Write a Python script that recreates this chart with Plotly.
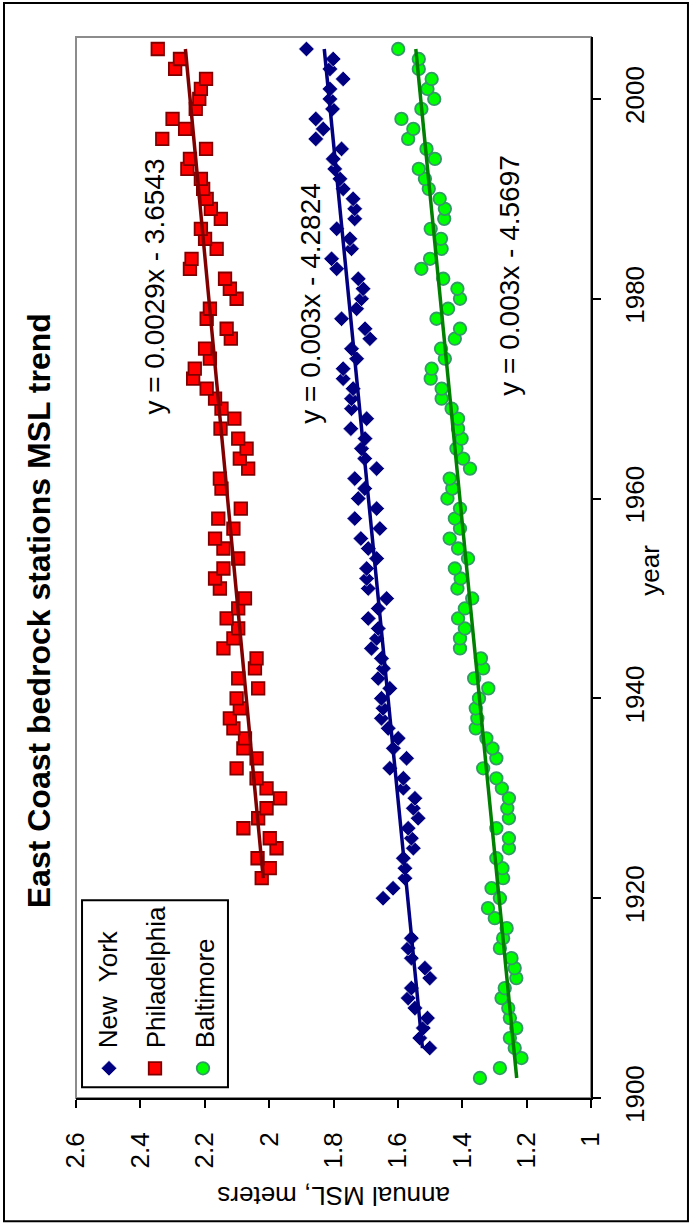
import numpy as np
import plotly.graph_objects as go

# ---------------- data ----------------
ny_years = list(range(1905, 1917)) + list(range(1920, 2006))
ny_msl = [1.501, 1.532, 1.521, 1.508, 1.547, 1.568, 1.558, 1.501, 1.516, 1.558, 1.568, 1.558,
          1.646, 1.615, 1.578, 1.578, 1.583, 1.552, 1.558, 1.568, 1.537, 1.552,
          1.547, 1.583, 1.583, 1.625, 1.573, 1.614, 1.599, 1.630, 1.651, 1.646,
          1.651, 1.625, 1.661, 1.645, 1.651, 1.682, 1.666, 1.661, 1.692, 1.661,
          1.635, 1.692, 1.697, 1.697, 1.666, 1.692, 1.715, 1.656, 1.734, 1.666,
          1.723, 1.703, 1.734, 1.666, 1.703, 1.713, 1.702, 1.746, 1.697, 1.744,
          1.744, 1.739, 1.770, 1.770, 1.728, 1.744, 1.687, 1.702, 1.775, 1.728,
          1.713, 1.708, 1.723, 1.790, 1.806, 1.744, 1.749, 1.790, 1.734, 1.734,
          1.739, 1.770, 1.780, 1.796, 1.801, 1.775, 1.855, 1.832, 1.855, 1.803,
          1.811, 1.811, 1.770, 1.811, 1.801, 1.884]

phil_years = list(range(1922, 1960)) + list(range(1961, 2006))
phil_msl = [2.023, 1.998, 2.036, 1.977, 1.998, 2.080, 2.034, 2.008, 1.966, 2.008,
            2.039, 2.101, 2.039, 2.080, 2.075, 2.111, 2.122, 2.091, 2.101, 2.034,
            2.096, 2.044, 2.039, 2.142, 2.111, 2.096, 2.132, 2.096, 2.075, 2.153,
            2.168, 2.142, 2.096, 2.142, 2.168, 2.111, 2.158, 2.088,
            2.148, 2.153, 2.065, 2.091, 2.070, 2.096, 2.151, 2.108, 2.148, 2.168,
            2.194, 2.236, 2.231, 2.184, 2.199, 2.119, 2.132, 2.194, 2.184, 2.101,
            2.122, 2.137, 2.246, 2.241, 2.163, 2.199, 2.212, 2.150, 2.181, 2.194,
            2.205, 2.212, 2.254, 2.246, 2.196, 2.332, 2.261, 2.300, 2.228, 2.217,
            2.212, 2.196, 2.292, 2.277, 2.346]

balt_years = list(range(1902, 2006))
balt_msl = [1.345, 1.283, 1.216, 1.237, 1.252, 1.232, 1.252, 1.257, 1.278, 1.268,
            1.232, 1.237, 1.247, 1.283, 1.273, 1.262, 1.299, 1.320, 1.283, 1.309,
            1.273, 1.275, 1.294, 1.255, 1.255, 1.294, 1.255, 1.260, 1.255, 1.277,
            1.294, 1.335, 1.294, 1.306, 1.325, 1.358, 1.353, 1.358, 1.348, 1.319,
            1.363, 1.335, 1.342, 1.407, 1.407, 1.392, 1.413, 1.392, 1.369, 1.415,
            1.405, 1.423, 1.382, 1.413, 1.439, 1.407, 1.423, 1.407, 1.446, 1.431,
            1.439, 1.376, 1.397, 1.418, 1.402, 1.413, 1.413, 1.433, 1.464, 1.464,
            1.498, 1.495, 1.454, 1.466, 1.423, 1.407, 1.480, 1.444, 1.407, 1.415,
            1.459, 1.527, 1.500, 1.464, 1.466, 1.498, 1.456, 1.454, 1.470, 1.504,
            1.516, 1.535, 1.485, 1.511, 1.568, 1.552, 1.589, 1.527, 1.487, 1.508,
            1.495, 1.535, 1.535, 1.599]

series_names = ["New\u00a0 York", "Philadelphia", "Baltimore"]
equations = ["y = 0.003x - 4.2824", "y = 0.0029x - 3.6543", "y = 0.003x - 4.5697"]

msl_ticks = [2.6, 2.4, 2.2, 2.0, 1.8, 1.6, 1.4, 1.2, 1.0]
msl_ticklabels = ["2.6", "2.4", "2.2", "2", "1.8", "1.6", "1.4", "1.2", "1"]
year_ticks = [1900, 1920, 1940, 1960, 1980, 2000]
year_ticklabels = ["1900", "1920", "1940", "1960", "1980", "2000"]

# ---------------- styling ----------------
FONT = "Liberation Sans, Arial, sans-serif"
colors = {
    "ny": "#000080",
    "phil_fill": "#FF0000", "phil_line": "#800000", "phil_trend": "#800000",
    "balt_fill": "#00FF00", "balt_line": "#339966", "balt_trend": "#008000",
}

# chart is rotated: MSL runs along the horizontal axis (reversed), years vertical
fig = go.Figure()

marker_ny = dict(symbol="diamond", size=12, color=colors["ny"], line=dict(color="white", width=0.6))
marker_phil = dict(symbol="square", size=12.5, color=colors["phil_fill"], line=dict(color=colors["phil_line"], width=1.8))
marker_balt = dict(symbol="circle", size=12.5, color=colors["balt_fill"], line=dict(color=colors["balt_line"], width=1.8))

fig.add_trace(go.Scatter(x=ny_msl, y=ny_years, mode="markers", marker=marker_ny, name=series_names[0]))
fig.add_trace(go.Scatter(x=phil_msl, y=phil_years, mode="markers", marker=marker_phil, name=series_names[1]))
fig.add_trace(go.Scatter(x=balt_msl, y=balt_years, mode="markers", marker=marker_balt, name=series_names[2]))

# linear trend lines fitted from the data
for yrs, vals, col in [(ny_years, ny_msl, colors["ny"]),
                       (phil_years, phil_msl, colors["phil_trend"]),
                       (balt_years, balt_msl, colors["balt_trend"])]:
    k, b = np.polyfit(yrs, vals, 1)
    ends = np.array([min(yrs), max(yrs)], dtype=float)
    fig.add_trace(go.Scatter(x=k * ends + b, y=ends, mode="lines",
                             line=dict(color=col, width=3.5), hoverinfo="skip"))

# legend key markers (on an overlay axis in 0..1 units)
fig.add_trace(go.Scatter(x=[0.0641], y=[0.028], xaxis="x2", yaxis="y2", mode="markers", marker=marker_ny, hoverinfo="skip"))
fig.add_trace(go.Scatter(x=[0.1534], y=[0.028], xaxis="x2", yaxis="y2", mode="markers", marker=marker_phil, hoverinfo="skip"))
fig.add_trace(go.Scatter(x=[0.2466], y=[0.028], xaxis="x2", yaxis="y2", mode="markers", marker=marker_balt, hoverinfo="skip"))

fig.update_layout(
    width=691, height=1223,
    margin=dict(l=76, r=100, t=37, b=125, autoexpand=False),
    paper_bgcolor="white", plot_bgcolor="white",
    showlegend=False,
    font=dict(family=FONT, size=26, color="black"),
    xaxis=dict(range=[2.6, 1.0], tickvals=msl_ticks, ticktext=msl_ticklabels, tickangle=-90,
               ticks="outside", ticklen=8, tickwidth=2, tickcolor="black",
               showline=True, linecolor="black", linewidth=2, showgrid=False, zeroline=False,
               tickfont=dict(size=26), ticklabelstandoff=14),
    yaxis=dict(range=[1900, 2006.2], tickvals=year_ticks, ticktext=year_ticklabels, tickangle=-90,
               side="right", ticks="outside", ticklen=8, tickwidth=2, tickcolor="black",
               showline=True, linecolor="black", linewidth=2, showgrid=False, zeroline=False,
               tickfont=dict(size=26), ticklabelstandoff=12),
    xaxis2=dict(range=[0, 1], overlaying="x", visible=False),
    yaxis2=dict(range=[0, 1], overlaying="y", visible=False),
)

shapes = [
    # grey plot-area frame
    dict(type="rect", xref="paper", yref="paper", x0=0, x1=1, y0=0, y1=1,
         line=dict(color="#8c8c8c", width=2), layer="below"),
    # legend box
    dict(type="rect", xref="paper", yref="paper", x0=0.0117, x1=0.2951, y0=0.0101, y1=0.1864,
         line=dict(color="black", width=2), fillcolor="white", layer="below"),
    # outer chart border
    dict(type="rect", xref="paper", yref="paper", x0=-0.1398, x1=1.1883, y0=-0.1162, y1=1.0321,
         line=dict(color="black", width=2), layer="below"),
]
fig.update_layout(shapes=shapes)

ann = []
# title
ann.append(dict(text="<b>East Coast bedrock stations MSL trend</b>", xref="paper", yref="paper",
                x=-0.0718, y=0.4588, textangle=-90, showarrow=False, xanchor="center", yanchor="middle",
                font=dict(size=32, family=FONT)))
# axis titles
ann.append(dict(text="year", xref="paper", yref="paper", x=1.1146, y=0.497, textangle=-90,
                showarrow=False, xanchor="center", yanchor="middle", font=dict(size=26)))
ann.append(dict(text="annual MSL, meters", xref="paper", yref="paper", x=0.501, y=-0.0917,
                textangle=180, showarrow=False, xanchor="center", yanchor="middle", font=dict(size=26)))
# trend equations
eq_pos = [(1.870, 1979.6), (2.355, 1981.2), (1.252, 1982.4)]
for (ex, ey), txt in zip(eq_pos, equations):
    ann.append(dict(text=txt, x=ex, y=ey, xref="x", yref="y", textangle=-90, showarrow=False,
                    xanchor="center", yanchor="middle", font=dict(size=28)))
# legend labels
for lx, name in zip([0.0621, 0.1553, 0.2505], series_names):
    ann.append(dict(text=name, xref="paper", yref="paper", x=lx, y=0.045, textangle=-90,
                    showarrow=False, xanchor="center", yanchor="bottom", font=dict(size=26)))
fig.update_layout(annotations=ann)

fig.write_html("out.html", config={"displayModeBar": False},
               post_script="document.body.style.margin='0';document.body.style.overflow='hidden';")
